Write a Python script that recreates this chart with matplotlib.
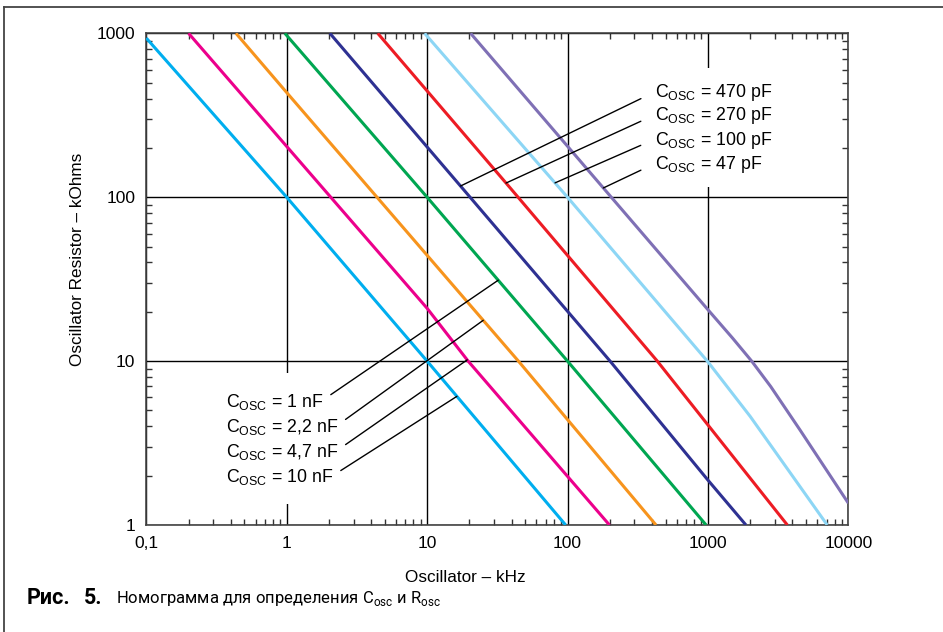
import numpy as np
import matplotlib.pyplot as plt
from matplotlib.ticker import LogLocator, NullFormatter
from matplotlib.patches import Rectangle
from matplotlib.lines import Line2D

plt.rcParams['font.family'] = ['Liberation Sans', 'DejaVu Sans']

# Nomogram curves: oscillator frequency (kHz) vs resistor (kOhm)
f_10n = [0.1, 1, 10, 97]
r_10n = [935, 100, 10, 1]
f_4n7 = [0.2, 10, 19.6, 199]
r_4n7 = [1000, 21, 10, 1]
f_2n2 = [0.435, 1, 44.7, 427]
r_2n2 = [1000, 435, 10, 1]
f_1n = [0.97, 10, 100, 971]
r_1n = [1000, 100, 10, 1]
f_470p = [2.03, 17.3, 201, 1000, 1866]
r_470p = [1000, 117, 10, 1.88, 1]
f_270p = [4.45, 36.5, 436, 1000, 3680]
r_270p = [1000, 122, 10, 4.08, 1]
f_100p = [9.6, 100, 1000, 2000, 7080]
r_100p = [1000, 100, 9.9, 4.6, 1]
f_47p = [20.4, 212, 1000, 1500, 2050, 2800, 4530, 10000]
r_47p = [1000, 96.7, 20.6, 13.8, 10, 7.0, 3.8, 1.36]

cap_labels = ['10 nF', '4,7 nF', '2,2 nF', '1 nF', '470 pF', '270 pF', '100 pF', '47 pF']
colors = ['#00aeef', '#ec008c', '#f7941d', '#00a651', '#2e3192', '#ed1c24', '#8dd6f5', '#7f70b5']

x_ticks = [0.1, 1, 10, 100, 1000, 10000]
x_ticklabels = ['0,1', '1', '10', '100', '1000', '10000']
y_ticks = [1, 10, 100, 1000]
y_ticklabels = ['1', '10', '100', '1000']

curves = [(f_10n, r_10n), (f_4n7, r_4n7), (f_2n2, r_2n2), (f_1n, r_1n),
          (f_470p, r_470p), (f_270p, r_270p), (f_100p, r_100p), (f_47p, r_47p)]

fig = plt.figure(figsize=(9.43, 6.32), dpi=100)
ax = fig.add_axes([146.3 / 943, 107 / 632, 702 / 943, 491.7 / 632])

for (f, r), c in zip(curves, colors):
    ax.plot(f, r, color=c, lw=2.2, solid_capstyle='butt', solid_joinstyle='round', zorder=3)

ax.set_xscale('log')
ax.set_yscale('log')
ax.set_xlim(0.1, 10000)
ax.set_ylim(1, 1000)
ax.set_xticks(x_ticks, x_ticklabels)
ax.set_yticks(y_ticks, y_ticklabels)
ax.xaxis.set_minor_locator(LogLocator(base=10, subs=np.arange(2, 10)))
ax.yaxis.set_minor_locator(LogLocator(base=10, subs=np.arange(2, 10)))
ax.xaxis.set_minor_formatter(NullFormatter())
ax.yaxis.set_minor_formatter(NullFormatter())
ax.tick_params(which='major', length=0, labelsize=12.5, pad=8)
ax.tick_params(which='minor', direction='in', length=4, width=1, color='#333333',
               top=True, right=True)
ax.grid(which='major', color='black', lw=1)
ax.set_axisbelow(True)
for s in ax.spines.values():
    s.set_color('#444444')
    s.set_linewidth(1.2)

ax.set_xlabel('Oscillator – kHz', fontsize=12.3)
ax.xaxis.set_label_coords(0.455, -0.092)
ax.set_ylabel('Oscillator Resistor – kOhms', fontsize=12.3)
ax.yaxis.set_label_coords(-0.087, 0.541)

# white panels under the label blocks (they hide the grid lines)
ax.add_patch(Rectangle((0.712, 0.687), 0.16, 0.242, transform=ax.transAxes,
                       facecolor='white', edgecolor='none', zorder=1))
ax.add_patch(Rectangle((0.105, 0.043), 0.167, 0.266, transform=ax.transAxes,
                       facecolor='white', edgecolor='none', zorder=1))


def on_curve(i, f0):
    f, r = curves[i]
    return f0, 10 ** np.interp(np.log10(f0), np.log10(f), np.log10(r))


# right block: 470, 270, 100, 47 pF
right_idx = [4, 5, 6, 7]
right_f = [17.3, 36.5, 81.5, 180]
right_y = [0.8697, 0.8230, 0.7735, 0.7239]
for i, f0, yy in zip(right_idx, right_f, right_y):
    ax.annotate('C$_{\\mathregular{OSC}}$ = ' + cap_labels[i], xy=on_curve(i, f0),
                xytext=(0.7246, yy), textcoords='axes fraction', fontsize=12.8,
                ha='left', va='baseline', zorder=4,
                arrowprops=dict(arrowstyle='-', color='black', lw=1,
                                relpos=(0, 0.55), shrinkA=9, shrinkB=0))

# left block: 1, 2.2, 4.7, 10 nF
left_idx = [3, 2, 1, 0]
left_f = [32.1, 25.1, 19.3, 16.3]
left_y = [0.2406, 0.1898, 0.1389, 0.0868]
for i, f0, yy in zip(left_idx, left_f, left_y):
    ax.annotate('C$_{\\mathregular{OSC}}$ = ' + cap_labels[i], xy=on_curve(i, f0),
                xytext=(0.1135, yy), textcoords='axes fraction', fontsize=12.8,
                ha='left', va='baseline', zorder=4,
                arrowprops=dict(arrowstyle='-', color='black', lw=1,
                                relpos=(1, 0.6), shrinkA=4, shrinkB=0))

# page frame (top and left edges)
fig.add_artist(Line2D([4 / 943, 1], [1 - 7 / 632, 1 - 7 / 632], color='#444444', lw=1.3))
fig.add_artist(Line2D([4 / 943, 4 / 943], [0, 1 - 7 / 632], color='#444444', lw=1.3))

cap_font = ['Roboto', 'DejaVu Sans']
cap_y = 1 - 598 / 632
fig.text(27 / 943, cap_y, 'Рис.', family=cap_font, fontweight='bold',
         fontsize=15.5, va='center', ha='left')
fig.text(84 / 943, cap_y, '5.', family=cap_font, fontweight='bold',
         fontsize=15.5, va='center', ha='left')
fig.text(116 / 943, cap_y,
         'Номограмма для определения C$_{\\mathregular{osc}}$ и R$_{\\mathregular{osc}}$',
         family=cap_font, fontsize=12, va='center', ha='left')

fig.savefig('out.png', dpi=100)
